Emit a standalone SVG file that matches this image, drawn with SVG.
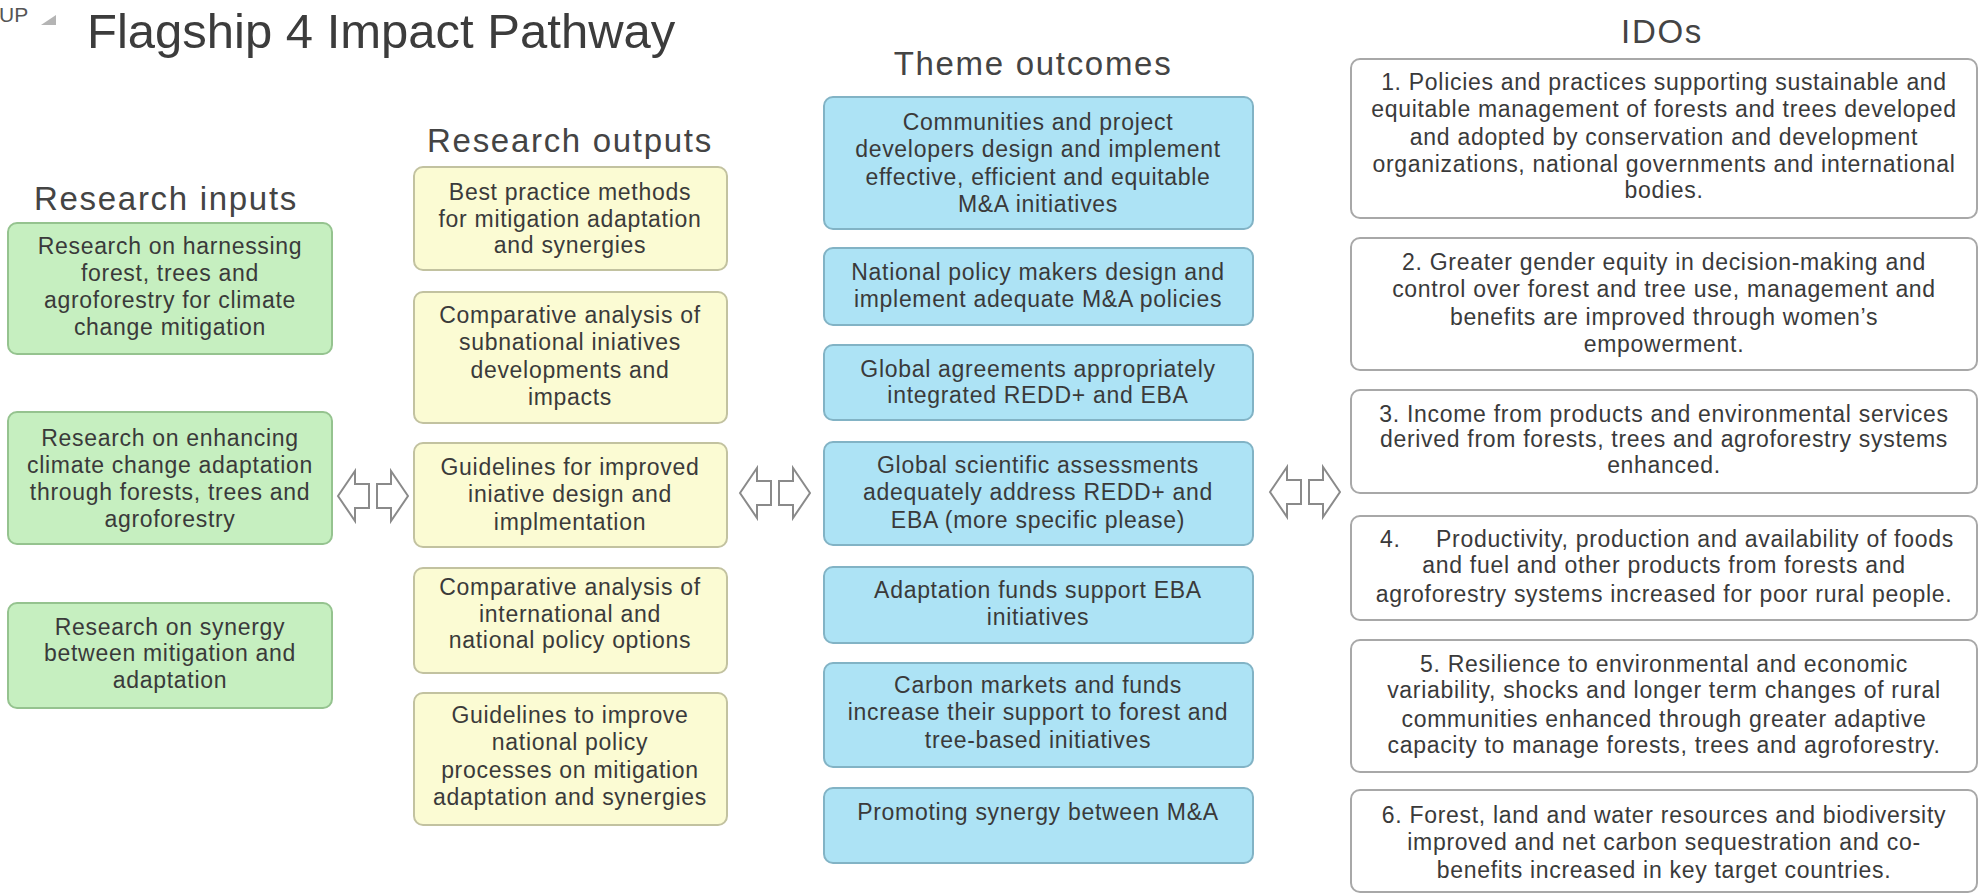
<svg xmlns="http://www.w3.org/2000/svg" xmlns:xlink="http://www.w3.org/1999/xlink" width="1980" height="894" viewBox="0 0 1980 894">
<style>
text{font-family:"Liberation Sans",Arial,Helvetica,sans-serif;fill:#3a3a3a}
.t{font-size:23px;letter-spacing:0.7px;text-anchor:middle}
.h{font-size:33px;letter-spacing:1.7px;text-anchor:middle;fill:#444}
.in{fill:#c6efc0;stroke:#95c38f;stroke-width:2}
.out{fill:#fbfbd3;stroke:#c2c2a0;stroke-width:2}
.th{fill:#ade3f5;stroke:#82b3c5;stroke-width:2}
.ido{fill:#ffffff;stroke:#a8a8a8;stroke-width:2}
.arr{fill:#ffffff;stroke:#8a8a8a;stroke-width:2;stroke-linejoin:miter}
</style>
<defs>
<g id="dbl">
<polygon class="arr" points="-35,0 -18,-25 -18,-12 -4,-12 -4,12 -18,12 -18,25"/>
<polygon class="arr" points="35,0 18,-25 18,-12 4,-12 4,12 18,12 18,25"/>
</g>
</defs>
<rect x="0" y="0" width="1980" height="894" fill="#ffffff"/>
<g id="header">
<text x="-1" y="22" style="font-size:21px;fill:#555">UP</text>
<polygon points="56,15 56,25 41,25" fill="#b4b4b4"/>
<text x="87" y="48" style="font-size:49px;fill:#3c3c3c">Flagship 4 Impact Pathway</text>
</g>
<g id="headings">
<text class="h" x="166" y="210">Research inputs</text>
<text class="h" x="570" y="152">Research outputs</text>
<text class="h" x="1033" y="75">Theme outcomes</text>
<text class="h" x="1662" y="43">IDOs</text>
</g>
<g id="input1"><rect class="in" x="8" y="223" width="324" height="131" rx="9"/>
<text class="t"><tspan x="170" y="254">Research on harnessing</tspan><tspan x="170" y="281">forest, trees and</tspan><tspan x="170" y="308">agroforestry for climate</tspan><tspan x="170" y="335">change mitigation</tspan></text></g>
<g id="input2"><rect class="in" x="8" y="412" width="324" height="132" rx="9"/>
<text class="t"><tspan x="170" y="446">Research on enhancing</tspan><tspan x="170" y="473">climate change adaptation</tspan><tspan x="170" y="500">through forests, trees and</tspan><tspan x="170" y="527">agroforestry</tspan></text></g>
<g id="input3"><rect class="in" x="8" y="603" width="324" height="105" rx="9"/>
<text class="t"><tspan x="170" y="635">Research on synergy</tspan><tspan x="170" y="661">between mitigation and</tspan><tspan x="170" y="688">adaptation</tspan></text></g>
<g id="output1"><rect class="out" x="414" y="167" width="313" height="103" rx="9"/>
<text class="t"><tspan x="570" y="200">Best practice methods</tspan><tspan x="570" y="227">for mitigation adaptation</tspan><tspan x="570" y="253">and synergies</tspan></text></g>
<g id="output2"><rect class="out" x="414" y="292" width="313" height="131" rx="9"/>
<text class="t"><tspan x="570" y="323">Comparative analysis of</tspan><tspan x="570" y="350">subnational iniatives</tspan><tspan x="570" y="378">developments and</tspan><tspan x="570" y="405">impacts</tspan></text></g>
<g id="output3"><rect class="out" x="414" y="443" width="313" height="104" rx="9"/>
<text class="t"><tspan x="570" y="475">Guidelines for improved</tspan><tspan x="570" y="502">iniative design and</tspan><tspan x="570" y="530">implmentation</tspan></text></g>
<g id="output4"><rect class="out" x="414" y="568" width="313" height="105" rx="9"/>
<text class="t"><tspan x="570" y="595">Comparative analysis of</tspan><tspan x="570" y="622">international and</tspan><tspan x="570" y="648">national policy options</tspan></text></g>
<g id="output5"><rect class="out" x="414" y="693" width="313" height="132" rx="9"/>
<text class="t"><tspan x="570" y="723">Guidelines to improve</tspan><tspan x="570" y="750">national policy</tspan><tspan x="570" y="778">processes on mitigation</tspan><tspan x="570" y="805">adaptation and synergies</tspan></text></g>
<g id="theme1"><rect class="th" x="824" y="97" width="429" height="132" rx="9"/>
<text class="t"><tspan x="1038" y="130">Communities and project</tspan><tspan x="1038" y="157">developers design and implement</tspan><tspan x="1038" y="185">effective, efficient and equitable</tspan><tspan x="1038" y="212">M&amp;A initiatives</tspan></text></g>
<g id="theme2"><rect class="th" x="824" y="248" width="429" height="77" rx="9"/>
<text class="t"><tspan x="1038" y="280">National policy makers design and</tspan><tspan x="1038" y="307">implement adequate M&amp;A policies</tspan></text></g>
<g id="theme3"><rect class="th" x="824" y="345" width="429" height="75" rx="9"/>
<text class="t"><tspan x="1038" y="377">Global agreements appropriately</tspan><tspan x="1038" y="403">integrated REDD+ and EBA</tspan></text></g>
<g id="theme4"><rect class="th" x="824" y="442" width="429" height="103" rx="9"/>
<text class="t"><tspan x="1038" y="473">Global scientific assessments</tspan><tspan x="1038" y="500">adequately address REDD+ and</tspan><tspan x="1038" y="528">EBA (more specific please)</tspan></text></g>
<g id="theme5"><rect class="th" x="824" y="567" width="429" height="76" rx="9"/>
<text class="t"><tspan x="1038" y="598">Adaptation funds support EBA</tspan><tspan x="1038" y="625">initiatives</tspan></text></g>
<g id="theme6"><rect class="th" x="824" y="663" width="429" height="104" rx="9"/>
<text class="t"><tspan x="1038" y="693">Carbon markets and funds</tspan><tspan x="1038" y="720">increase their support to forest and</tspan><tspan x="1038" y="748">tree-based initiatives</tspan></text></g>
<g id="theme7"><rect class="th" x="824" y="788" width="429" height="75" rx="9"/>
<text class="t"><tspan x="1038" y="820">Promoting synergy between M&amp;A</tspan></text></g>
<g id="ido1"><rect class="ido" x="1351" y="59" width="626" height="159" rx="9"/>
<text class="t"><tspan x="1664" y="90">1. Policies and practices supporting sustainable and</tspan><tspan x="1664" y="117">equitable management of forests and trees developed</tspan><tspan x="1664" y="145">and adopted by conservation and development</tspan><tspan x="1664" y="172">organizations, national governments and international</tspan><tspan x="1664" y="198">bodies.</tspan></text></g>
<g id="ido2"><rect class="ido" x="1351" y="238" width="626" height="132" rx="9"/>
<text class="t"><tspan x="1664" y="270">2. Greater gender equity in decision-making and</tspan><tspan x="1664" y="297">control over forest and tree use, management and</tspan><tspan x="1664" y="325">benefits are improved through women’s</tspan><tspan x="1664" y="352">empowerment.</tspan></text></g>
<g id="ido3"><rect class="ido" x="1351" y="390" width="626" height="103" rx="9"/>
<text class="t"><tspan x="1664" y="422">3. Income from products and environmental services</tspan><tspan x="1664" y="447">derived from forests, trees and agroforestry systems</tspan><tspan x="1664" y="473">enhanced.</tspan></text></g>
<g id="ido4"><rect class="ido" x="1351" y="516" width="626" height="104" rx="9"/>
<text class="t" style="text-anchor:start"><tspan x="1380" y="547">4.</tspan><tspan x="1436" y="547">Productivity, production and availability of foods</tspan></text>
<text class="t"><tspan x="1664" y="573">and fuel and other products from forests and</tspan><tspan x="1664" y="602">agroforestry systems increased for poor rural people.</tspan></text></g>
<g id="ido5"><rect class="ido" x="1351" y="640" width="626" height="132" rx="9"/>
<text class="t"><tspan x="1664" y="672">5. Resilience to environmental and economic</tspan><tspan x="1664" y="698">variability, shocks and longer term changes of rural</tspan><tspan x="1664" y="727">communities enhanced through greater adaptive</tspan><tspan x="1664" y="753">capacity to manage forests, trees and agroforestry.</tspan></text></g>
<g id="ido6"><rect class="ido" x="1351" y="790" width="626" height="102" rx="9"/>
<text class="t"><tspan x="1664" y="823">6. Forest, land and water resources and biodiversity</tspan><tspan x="1664" y="850">improved and net carbon sequestration and co-</tspan><tspan x="1664" y="878">benefits increased in key target countries.</tspan></text></g>
<g id="connectors">
<use xlink:href="#dbl" href="#dbl" transform="translate(373,496)"/>
<use xlink:href="#dbl" href="#dbl" transform="translate(775,493)"/>
<use xlink:href="#dbl" href="#dbl" transform="translate(1305,492)"/>
</g>
</svg>
